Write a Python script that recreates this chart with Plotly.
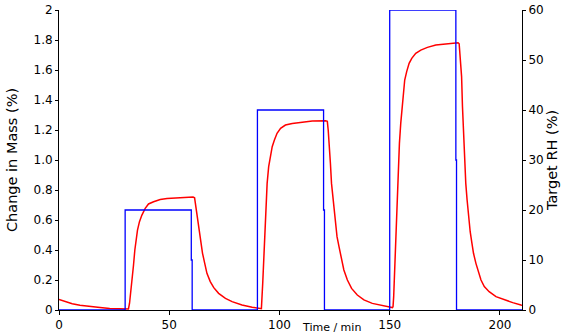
import plotly.graph_objects as go

# Sample mass change (%) vs time (min)
mass_time = [
    0, 3, 6, 9.5, 14, 18.6, 23, 27.3, 30, 31.2,
    31.5, 32.0, 32.7, 33.3, 33.8, 34.4, 35.0, 35.6, 36.5, 37.6, 39.1, 40.6, 42.9, 45.9, 49,
    53.5, 57.3, 60.8, 61.5,
    62.3, 62.9, 63.6, 64.4, 65.1, 66.1, 67.1, 68.6, 70.2, 72.4, 75.5, 78.5, 83, 87.6, 90.6, 91.4,
    91.8, 92.4, 92.9, 93.3, 93.9, 94.4, 95.1, 95.9, 96.7, 97.7, 98.9, 100.5, 102.7, 105.8,
    110.3, 114.9, 120.9, 121.7,
    122.1, 122.6, 123.1, 123.6, 124.4, 125.2, 126.1, 127, 128, 129.2, 130.8, 132.7, 135.3,
    138.3, 142.1, 146.7, 150.5, 151.2,
    151.5, 151.8, 152.3, 152.7, 153.2, 153.8, 154.4, 155, 155.6, 156.2, 156.8, 157.7, 158.8,
    160, 161.8, 164.1, 167.1, 170.9, 175.5, 178.5, 181, 181.5,
    182, 182.6, 183, 183.5, 183.9, 184.5, 185.1, 185.8, 186.5, 187.3, 188, 189.1, 190.1,
    191.4, 192.9, 195.1, 198.2, 202, 205.8, 209.5, 210,
]
mass_change = [
    0.071, 0.055, 0.042, 0.031, 0.022, 0.016, 0.010, 0.006, 0.004, 0.004,
    0.007, 0.045, 0.133, 0.21, 0.30, 0.40, 0.467, 0.533, 0.589, 0.633, 0.678, 0.707, 0.722, 0.736, 0.744,
    0.749, 0.753, 0.753, 0.748,
    0.667, 0.60, 0.511, 0.444, 0.378, 0.311, 0.244, 0.189, 0.149, 0.111, 0.078, 0.056, 0.033, 0.018, 0.013, 0.010,
    0.009, 0.178, 0.356, 0.533, 0.733, 0.844, 0.956, 1.033, 1.089, 1.133, 1.178, 1.211, 1.233, 1.244,
    1.253, 1.26, 1.262, 1.258,
    1.2, 1.111, 0.978, 0.844, 0.733, 0.6, 0.489, 0.422, 0.344, 0.267, 0.2, 0.144, 0.1,
    0.067, 0.044, 0.027, 0.018, 0.016,
    0.022, 0.089, 0.289, 0.467, 0.711, 0.933, 1.111, 1.244, 1.356, 1.467, 1.533, 1.589, 1.644,
    1.678, 1.711, 1.733, 1.751, 1.767, 1.776, 1.782, 1.782, 1.775,
    1.67, 1.556, 1.356, 1.2, 0.978, 0.844, 0.733, 0.622, 0.522, 0.444, 0.378, 0.311, 0.256,
    0.2, 0.156, 0.122, 0.089, 0.067, 0.049, 0.033, 0.032,
]

# Target relative humidity (%) step programme
rh_time = [0, 30, 30, 60, 60, 60.4, 60.4, 90, 90, 120, 120, 120.4, 120.4,
           150, 150, 180, 180, 180.3, 180.3, 210]
rh_target = [0, 0, 20, 20, 10, 10, 0, 0, 40, 40, 20, 20, 0,
             0, 60, 60, 30, 30, 0, 0]

mass_tickvals = [0, 0.2, 0.4, 0.6, 0.8, 1.0, 1.2, 1.4, 1.6, 1.8, 2.0]
mass_ticktext = ["0", "0.2", "0.4", "0.6", "0.8", "1.0", "1.2", "1.4", "1.6", "1.8", "2"]
rh_tickvals = [0, 10, 20, 30, 40, 50, 60]
time_tickvals = [0, 50, 100, 150, 200]

FONT = "DejaVu Sans"

fig = go.Figure()
fig.add_trace(go.Scatter(
    x=mass_time, y=mass_change, mode="lines",
    line=dict(color="#FF0000", width=1.5), yaxis="y", showlegend=False,
))
fig.add_trace(go.Scatter(
    x=rh_time, y=rh_target, mode="lines",
    line=dict(color="#0000FF", width=1.3), yaxis="y2", showlegend=False,
))

axis_common = dict(
    showgrid=False, zeroline=False, showline=True, linecolor="black", linewidth=1,
    tickwidth=1, tickcolor="black", ticks="outside",
    tickfont=dict(family=FONT, size=12, color="black"),
)

fig.update_layout(
    width=570, height=335,
    margin=dict(l=59, r=48, t=10, b=25, autoexpand=False),
    paper_bgcolor="white", plot_bgcolor="white",
    xaxis=dict(range=[0, 210], tickvals=time_tickvals, ticklen=4, **axis_common),
    yaxis=dict(range=[0, 2], tickvals=mass_tickvals, ticktext=mass_ticktext, ticklen=3,
               title=dict(text="Change in Mass (%)",
                          font=dict(family=FONT, size=14.5, color="black"), standoff=12),
               **axis_common),
    yaxis2=dict(range=[0, 60], tickvals=rh_tickvals, overlaying="y", side="right", ticklen=3,
                title=dict(text="Target RH (%)",
                           font=dict(family=FONT, size=14.5, color="black"), standoff=4),
                **axis_common),
    annotations=[dict(
        text="Time / min", x=123.6, xref="x", y=-0.057, yref="paper",
        xanchor="center", yanchor="middle", showarrow=False,
        font=dict(family=FONT, size=11, color="black"),
    )],
)

fig.write_html("out.html")
